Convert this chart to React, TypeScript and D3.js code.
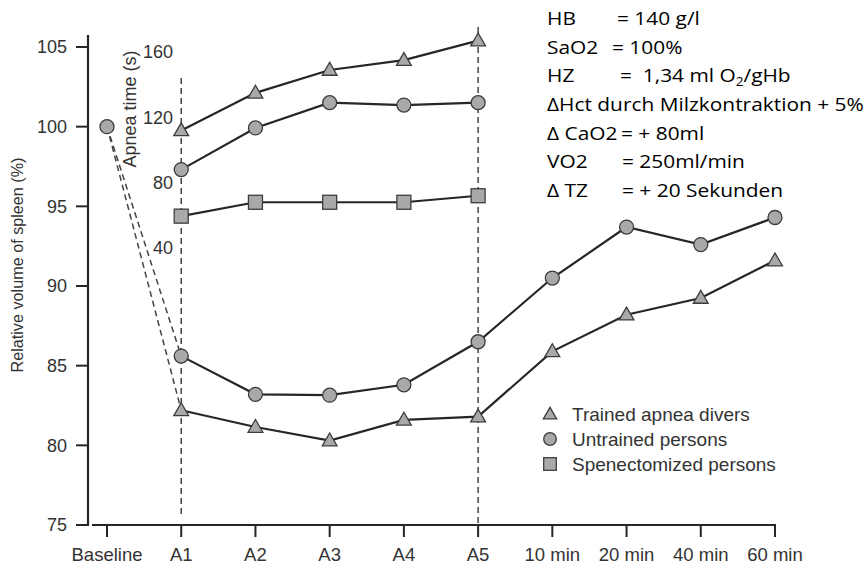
import React from "react";
import * as d3 from "d3";

const categories = ["Baseline", "A1", "A2", "A3", "A4", "A5", "10 min", "20 min", "40 min", "60 min"];
const apneaCategories = ["A1", "A2", "A3", "A4", "A5"];
const baselineVolume = 100;
const trainedVolume = [82.2, 81.15, 80.3, 81.6, 81.8, 85.9, 88.2, 89.25, 91.6];
const untrainedVolume = [85.6, 83.2, 83.15, 83.8, 86.5, 90.5, 93.7, 92.6, 94.3];
const trainedApnea = [112, 135, 149, 155, 167];
const untrainedApnea = [88, 113.5, 129, 127.5, 129];
const splenectomizedApnea = [59.5, 68, 68, 68, 72];
const volumeTicks = [75, 80, 85, 90, 95, 100, 105];
const apneaTicks = [40, 80, 120, 160];
const legendLabels = ["Trained apnea divers", "Untrained persons", "Spenectomized persons"];
const infoLabels = ["HB", "SaO2", "HZ", "ΔHct durch Milzkontraktion + 5%", "Δ CaO2", "VO2", "Δ TZ"];
const infoValues = ["= 140 g/l", "= 100%", "=  1,34 ml O|2|/gHb", "", "= + 80ml", "= 250ml/min", "= + 20 Sekunden"];

// layout
const infoValueX = [617, 612, 620, 0, 621, 622, 622];
const INFO_X = 547, INFO_SX = 1.13;
const W = 868, H = 566;
const FILL = "#a9a9a9", MSTROKE = "#3c3c3c", LINE = "#262626", TXT = "#333";
const FONT = "Liberation Sans";

function Marker({ type, x, y, s = 1 }: { type: string; x: number; y: number; s?: number }) {
  if (type === "circle") return <circle cx={x} cy={y} r={7 * s} fill={FILL} stroke={MSTROKE} strokeWidth={1.3} />;
  if (type === "square") {
    const h = 7 * s;
    return <rect x={x - h} y={y - h} width={2 * h} height={2 * h} fill={FILL} stroke={MSTROKE} strokeWidth={1.3} />;
  }
  const p = d3.symbol(d3.symbolTriangle, 95 * s * s)();
  return <path d={p || ""} transform={`translate(${x},${y + 1})`} fill={FILL} stroke={MSTROKE} strokeWidth={1.3} strokeLinejoin="miter" />;
}

export default function App() {
  const x = d3.scalePoint<string>().domain(categories).range([107, 775]);
  const y = d3.scaleLinear().domain([75, 105]).range([525, 47]);
  const ya = d3.scaleLinear().domain([40, 160]).range([248, 52]);
  const after = categories.slice(1);

  const line = d3.line<[number, number]>().x((d) => d[0]).y((d) => d[1]);
  const volPts = (vals: number[]) => vals.map((v, i) => [x(after[i])!, y(v)] as [number, number]);
  const apPts = (vals: number[]) => vals.map((v, i) => [x(apneaCategories[i])!, ya(v)] as [number, number]);

  const series = [
    { type: "triangle", pts: volPts(trainedVolume) },
    { type: "circle", pts: volPts(untrainedVolume) },
    { type: "triangle", pts: apPts(trainedApnea) },
    { type: "circle", pts: apPts(untrainedApnea) },
    { type: "square", pts: apPts(splenectomizedApnea) },
  ];
  const bx = x("Baseline")!, by = y(baselineVolume);
  const a1 = x("A1")!, a5 = x("A5")!;

  return (
    <svg width={W} height={H} style={{ position: "absolute", left: 0, top: 0, background: "#fff" }}>
      <rect width={W} height={H} fill="#fff" />
      <line x1={a1} x2={a1} y1={78} y2={517} stroke="#444" strokeWidth={1.5} strokeDasharray="6,4" />
      <line x1={a5} x2={a5} y1={27} y2={525} stroke="#444" strokeWidth={1.5} strokeDasharray="6,4" />
      <line x1={bx} y1={by} x2={a1} y2={y(untrainedVolume[0])} stroke="#444" strokeWidth={1.5} strokeDasharray="6,4" />
      <line x1={bx} y1={by} x2={a1} y2={y(trainedVolume[0])} stroke="#444" strokeWidth={1.5} strokeDasharray="6,4" />

      <line x1={88} x2={88} y1={35} y2={526} stroke={LINE} strokeWidth={2.2} />
      {volumeTicks.map((t) => (
        <g key={t}>
          <line x1={76} x2={88} y1={y(t)} y2={y(t)} stroke={LINE} strokeWidth={2} />
          <text x={67} y={y(t)} dy="0.36em" textAnchor="end" fontFamily={FONT} fontSize={18} fill={TXT}>{t}</text>
        </g>
      ))}
      <line x1={92} x2={776} y1={525} y2={525} stroke={LINE} strokeWidth={2.2} />
      {categories.map((c) => (
        <g key={c}>
          <line x1={x(c)} x2={x(c)} y1={525} y2={537} stroke={LINE} strokeWidth={2} />
          <text x={x(c)} y={561} textAnchor="middle" fontFamily={FONT} fontSize={18.5} fill={TXT}>{c}</text>
        </g>
      ))}
      <text transform="translate(23,265) rotate(-90)" textAnchor="middle" fontFamily={FONT} fontSize={16.2} fill={TXT}>
        Relative volume of spleen (%)
      </text>
      {apneaTicks.map((t) => (
        <text key={t} x={173} y={ya(t)} dy="0.36em" textAnchor="end" fontFamily={FONT} fontSize={18} fill={TXT}>{t}</text>
      ))}
      <text transform="translate(136,109) rotate(-90)" textAnchor="middle" fontFamily={FONT} fontSize={18} fill={TXT}>
        Apnea time (s)
      </text>

      {series.map((s, i) => (
        <path key={"l" + i} d={line(s.pts) || ""} fill="none" stroke={LINE} strokeWidth={2.2} />
      ))}
      {series.map((s, i) => (
        <g key={"m" + i}>
          {s.pts.map((p, j) => <Marker key={j} type={s.type} x={p[0]} y={p[1]} />)}
        </g>
      ))}
      <Marker type="circle" x={bx} y={by} />

      {legendLabels.map((l, i) => (
        <g key={l}>
          <Marker type={["triangle", "circle", "square"][i]} x={550} y={414 + i * 25} s={0.9} />
          <text x={572} y={414 + i * 25} dy="0.36em" fontFamily={FONT} fontSize={19} fill={TXT}>{l}</text>
        </g>
      ))}

      <g transform={`translate(${INFO_X},0) scale(${INFO_SX},1) translate(${-INFO_X},0)`} fontFamily="Open Sans" fontSize={18.5} fill="#000">
        {infoLabels.map((l, i) => {
          const yy = 25 + i * 28.7;
          const parts = infoValues[i].split("|");
          const vx = INFO_X + (infoValueX[i] - INFO_X) / INFO_SX;
          return (
            <g key={l}>
              <text x={INFO_X} y={yy}>{l}</text>
              {infoValues[i] && (
                <text x={vx} y={yy} style={{ whiteSpace: "pre" }}>
                  {parts[0]}
                  {parts.length > 1 && (
                    <>
                      <tspan fontSize={12} dy={4}>{parts[1]}</tspan>
                      <tspan dy={-4}>{parts[2]}</tspan>
                    </>
                  )}
                </text>
              )}
            </g>
          );
        })}
      </g>
    </svg>
  );
}
